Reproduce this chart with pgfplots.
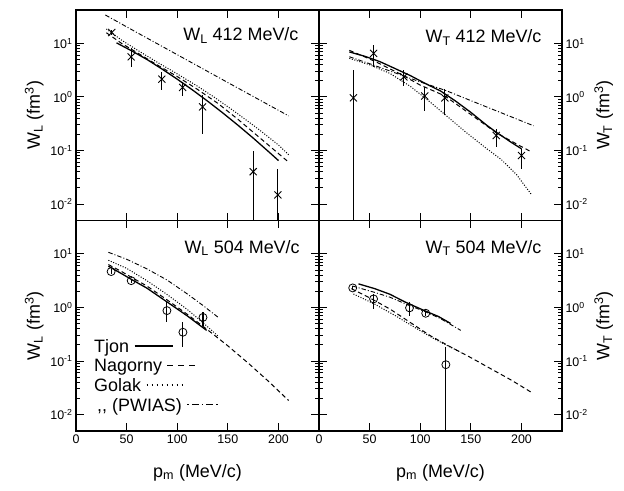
\documentclass[border=0pt]{standalone}
\usepackage{pgfplots}
\pgfplotsset{compat=1.18}
\usepackage{fontspec}
\setmainfont{Liberation Sans}
\setsansfont{Liberation Sans}
\newcommand\bigfont{\fontsize{18}{21}\selectfont}
\tikzset{
 mytj/.style={black, line width=1.3bp},
 myna/.style={black, line width=1.0bp, dash pattern=on 4.5bp off 3bp},
 mygo/.style={black, line width=1.0bp, dash pattern=on 1bp off 1.6bp},
 mypw/.style={black, line width=0.9bp, dash pattern=on 4.5bp off 2bp on 1bp off 2bp},
}
\newcommand\samp[2]{\tikz[baseline=-0.36em]\draw[#1] (0bp,0bp) -- (#2bp,0bp);}
\begin{document}
\begin{tikzpicture}
\path[use as bounding box] (-76bp,-60bp) rectangle (548bp,431bp);

% ---------------- top left: W_L 412
\begin{axis}[scale only axis, width=243bp, height=210.5bp,
  xmin=0, xmax=240, ymode=log, ymin=0.0049, ymax=42,
  xtick={0,50,100,150,200}, ytick={0.01,0.1,1,10},
  yticklabels={10\textsuperscript{-2},10\textsuperscript{-1},10\textsuperscript{0},10\textsuperscript{1}},
  tick label style={font=\fontsize{12.5}{14}\selectfont},
  label style={font=\bigfont},
  major tick length=8bp, minor tick length=4bp,
  tick style={black, line width=0.8bp},
  axis line style={line width=1.2bp},
  tick align=inside,
  at={(0bp,210.5bp)}, anchor=south west,
  xticklabels={}, ylabel={W\textsubscript{L} (fm\textsuperscript{3})}]
\addplot[mytj, no marks] coordinates {(40,10.23)(55,7.24)(70,5.01)(85,3.31)(100,2.14)(115,1.35)(130,0.832)(145,0.501)(160,0.295)(175,0.170)(190,0.0955)(200,0.0646)};
\addplot[myna, no marks] coordinates {(30,15.8)(45,10.0)(60,6.76)(80,3.98)(100,2.40)(120,1.38)(140,0.759)(160,0.380)(180,0.182)(200,0.0871)(210,0.0603)};
\addplot[mygo, no marks] coordinates {(30,18.6)(45,11.5)(60,7.59)(80,4.47)(100,2.69)(120,1.585)(140,0.891)(160,0.479)(180,0.251)(200,0.126)(210,0.0832)};
\addplot[mypw, no marks] coordinates {(29,33.9)(60,16.0)(90,7.80)(120,3.80)(150,1.85)(180,0.904)(210,0.442)};
\addplot[black, only marks, mark=x, mark size=5bp, mark options={line width=0.9bp},
  error bars/.cd, y dir=both, y explicit, error mark=none, error bar style={line width=1.1bp}] coordinates {
 (35.3,16) += (0,1.5) -= (0,1.5)
 (54.5,5.6) += (0,2.7) -= (0,2.0)
 (84.8,2.14) += (0,0.79) -= (0,0.77)
 (105.3,1.5) += (0,0.4) -= (0,0.46)
 (125,0.65) += (0,0.42) -= (0,0.445)
 (175,0.040) += (0,0.057) -= (0,0.0395)
 (199.4,0.0147) += (0,0.0303) -= (0,0.0145)
};
\node[anchor=east, font=\bigfont] at (rel axis cs:0.93,0.88) {W\textsubscript{L} 412 MeV/c};
\end{axis}

% ---------------- top right: W_T 412
\begin{axis}[scale only axis, width=243bp, height=210.5bp,
  xmin=0, xmax=240, ymode=log, ymin=0.0049, ymax=42,
  xtick={0,50,100,150,200}, ytick={0.01,0.1,1,10},
  yticklabels={10\textsuperscript{-2},10\textsuperscript{-1},10\textsuperscript{0},10\textsuperscript{1}},
  tick label style={font=\fontsize{12.5}{14}\selectfont},
  label style={font=\bigfont},
  major tick length=8bp, minor tick length=4bp,
  tick style={black, line width=0.8bp},
  axis line style={line width=1.2bp},
  tick align=inside,
  at={(243bp,210.5bp)}, anchor=south west,
  xticklabels={}, yticklabel pos=right, ylabel={W\textsubscript{T} (fm\textsuperscript{3})}]
\addplot[mytj, no marks] coordinates {(30,6.92)(45,5.75)(60,4.57)(75,3.39)(90,2.51)(105,1.78)(120,1.29)(135,0.832)(150,0.513)(165,0.302)(175,0.219)(190,0.141)(200,0.107)};
\addplot[myna, no marks] coordinates {(30,7.41)(45,5.62)(60,4.17)(80,2.69)(100,1.66)(124,1.05)(150,0.468)(175,0.214)(195,0.132)(210,0.0933)};
\addplot[mygo, no marks] coordinates {(30,5.25)(50,3.98)(70,2.75)(90,1.585)(110,0.794)(125,0.457)(145,0.219)(165,0.110)(180,0.0676)(195,0.0355)(210,0.0148)};
\addplot[mypw, no marks] coordinates {(30,5.62)(50,4.17)(75,2.82)(100,1.905)(125,1.32)(150,0.851)(175,0.550)(200,0.355)(212,0.288)};
\addplot[black, only marks, mark=x, mark size=5bp, mark options={line width=0.9bp},
  error bars/.cd, y dir=both, y explicit, error mark=none, error bar style={line width=1.1bp}] coordinates {
 (34,0.96) += (0,2.24) -= (0,0.959)
 (53.9,6.5) += (0,2.8) -= (0,2.9)
 (83.8,2.36) += (0,0.84) -= (0,0.78)
 (104.4,1.04) += (0,0.46) -= (0,0.5)
 (124.3,0.955) += (0,0.475) -= (0,0.505)
 (175.1,0.19) += (0,0.064) -= (0,0.072)
 (200,0.080) += (0,0.027) -= (0,0.035)
};
\node[anchor=east, font=\bigfont] at (rel axis cs:0.93,0.87) {W\textsubscript{T} 412 MeV/c};
\end{axis}

% ---------------- bottom left: W_L 504
\begin{axis}[scale only axis, width=243bp, height=210.5bp,
  xmin=0, xmax=240, ymode=log, ymin=0.0049, ymax=42,
  xtick={0,50,100,150,200}, xticklabels={0,50,100,150,200}, ytick={0.01,0.1,1,10},
  yticklabels={10\textsuperscript{-2},10\textsuperscript{-1},10\textsuperscript{0},10\textsuperscript{1}},
  tick label style={font=\fontsize{12.5}{14}\selectfont},
  label style={font=\bigfont},
  xlabel style={yshift=-14bp},
  major tick length=8bp, minor tick length=4bp,
  tick style={black, line width=0.8bp},
  axis line style={line width=1.2bp},
  tick align=inside,
  at={(0bp,0bp)}, anchor=south west,
  xlabel={p\textsubscript{m} (MeV/c)}, ylabel={W\textsubscript{L} (fm\textsuperscript{3})},
  legend plot pos=none,
  legend style={at={(0.066,0.445)}, anchor=north west, draw=none, fill=none,
    font=\bigfont, inner sep=0pt, row sep=1.3bp},
  legend cell align=left]
\addplot[mytj, no marks] coordinates {(32,5.89)(45,4.27)(55,3.31)(70,2.29)(90,1.26)(110,0.692)(129,0.372)};
\addlegendentry{Tjon \samp{mytj}{38}}
\addplot[myna, no marks] coordinates {(32,6.31)(45,4.68)(55,3.63)(70,2.51)(90,1.38)(110,0.741)(130,0.380)(150,0.191)(170,0.0912)(190,0.0417)(210,0.0182)};
\addlegendentry{Nagorny \samp{black, line width=1bp, dash pattern=on 6bp off 5bp}{28}}
\addplot[mygo, no marks] coordinates {(32,7.59)(50,5.37)(70,3.16)(90,1.74)(110,0.912)(125,0.525)(140,0.295)};
\addlegendentry{Golak \samp{black, line width=1.3bp, dash pattern=on 1.4bp off 3.6bp}{37}}
\addplot[mypw, no marks] coordinates {(32,10.7)(50,7.94)(70,5.25)(90,3.24)(110,1.78)(125,1.10)(140,0.661)};
\addlegendentry{\,{,}{,} (PWIAS) \samp{black, line width=1bp, dash pattern=on 1.4bp off 3bp on 7bp off 3bp}{32}}
\addplot[black, only marks, mark=o, mark size=4bp, mark options={line width=0.8bp}, forget plot,
  error bars/.cd, y dir=both, y explicit, error mark=none, error bar style={line width=1.1bp}] coordinates {
 (34.7,4.67) += (0,0.5) -= (0,0.5)
 (54.5,3.16) += (0,0.3) -= (0,0.3)
 (89.8,0.87) += (0,0.38) -= (0,0.33)
 (105.6,0.343) += (0,0.187) -= (0,0.158)
 (125.4,0.65) += (0,0.16) -= (0,0.21)
};
\node[anchor=east, font=\bigfont] at (rel axis cs:0.935,0.87) {W\textsubscript{L} 504 MeV/c};
\end{axis}

% ---------------- bottom right: W_T 504
\begin{axis}[scale only axis, width=243bp, height=210.5bp,
  xmin=0, xmax=240, ymode=log, ymin=0.0049, ymax=42,
  xtick={0,50,100,150,200}, xticklabels={0,50,100,150,200}, ytick={0.01,0.1,1,10},
  yticklabels={10\textsuperscript{-2},10\textsuperscript{-1},10\textsuperscript{0},10\textsuperscript{1}},
  tick label style={font=\fontsize{12.5}{14}\selectfont},
  label style={font=\bigfont},
  xlabel style={yshift=-14bp},
  major tick length=8bp, minor tick length=4bp,
  tick style={black, line width=0.8bp},
  axis line style={line width=1.2bp},
  tick align=inside,
  at={(243bp,0bp)}, anchor=south west,
  xlabel={p\textsubscript{m} (MeV/c)}, yticklabel pos=right, ylabel={W\textsubscript{T} (fm\textsuperscript{3})}]
\addplot[mytj, no marks] coordinates {(39,2.75)(55,2.24)(70,1.76)(85,1.26)(104,0.871)(118,0.676)(130,0.501)};
\addplot[myna, no marks] coordinates {(32,2.24)(50,1.51)(70,0.933)(90,0.525)(110,0.295)(130,0.182)(150,0.115)(170,0.0708)(190,0.0437)(210,0.0257)};
\addplot[mygo, no marks] coordinates {(34,1.78)(55,1.15)(75,0.708)(95,0.417)(115,0.251)(140,0.145)};
\addplot[mypw, no marks] coordinates {(33,2.51)(55,1.905)(70,1.55)(90,1.07)(105,0.832)(120,0.617)(140,0.372)};
\addplot[black, only marks, mark=o, mark size=4bp, mark options={line width=0.8bp},
  error bars/.cd, y dir=both, y explicit, error mark=none, error bar style={line width=1.1bp}] coordinates {
 (33.3,2.31) += (0,0.2) -= (0,0.2)
 (53.9,1.44) += (0,0.34) -= (0,0.50)
 (89.4,0.98) += (0,0.26) -= (0,0.28)
 (105.4,0.776) += (0,0.08) -= (0,0.08)
 (125.3,0.085) += (0,0.095) -= (0,0.0845)
};
\node[anchor=east, font=\bigfont] at (rel axis cs:0.93,0.87) {W\textsubscript{T} 504 MeV/c};
\end{axis}
\end{tikzpicture}
\end{document}
